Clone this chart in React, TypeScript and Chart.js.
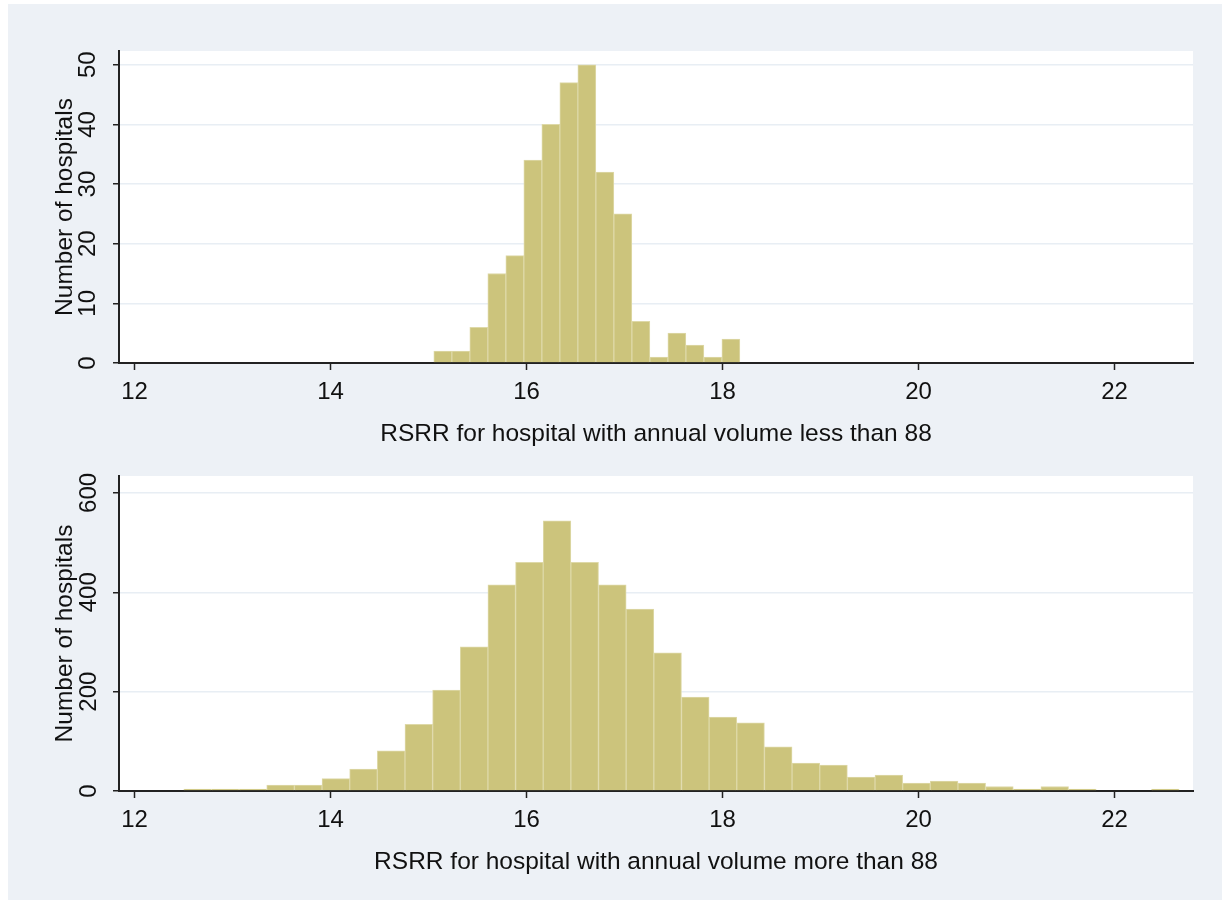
import React, { useEffect, useRef } from "react";
import { Chart, registerables } from "chart.js";

Chart.register(...registerables);

// ---- Data ----
const topCounts = [2, 2, 6, 15, 18, 34, 40, 47, 50, 32, 25, 7, 1, 5, 3, 1, 4];
const topBinStart = 15.054;
const topBinWidth = 0.1837;

const bottomCounts = [
  4, 4, 4, 12, 12, 25, 44, 81, 134, 203, 290, 415, 460, 544, 460, 415, 366, 278,
  189, 149, 137, 89, 56, 52, 28, 32, 16, 20, 16, 9, 4, 9, 4, 0, 0, 4,
];
const bottomBinStart = 12.503;
const bottomBinWidth = 0.2821;

const xRange = [11.842, 22.8];
const xTicks = [12, 14, 16, 18, 20, 22];
const topYMax = 52.3;
const topYTicks = [0, 10, 20, 30, 40, 50];
const bottomYMax = 634;
const bottomYTicks = [0, 200, 400, 600];

const yTitle = "Number of hospitals";
const topXTitle = "RSRR for hospital with annual volume less than 88";
const bottomXTitle = "RSRR for hospital with annual volume more than 88";

// ---- Styles ----
const FONT = "'Liberation Sans', Arial, Helvetica, sans-serif";
const BAR_FILL = "rgb(204,196,124)";
const BAR_EDGE = "rgb(222,217,168)";
const GRID = "rgb(232,238,244)";
const AXIS = "#222";
const OUTER_BG = "rgb(237,241,246)";

const plotBg = {
  id: "plotBg",
  beforeDraw(chart: any) {
    const { ctx, chartArea: a } = chart;
    ctx.save();
    ctx.fillStyle = "#ffffff";
    ctx.fillRect(a.left, a.top, a.right - a.left, a.bottom - a.top);
    ctx.restore();
  },
};

function binData(counts: number[], start: number, width: number) {
  return counts.map((c, i) => ({ x: start + width * (i + 0.5), y: c }));
}

function makeConfig(
  counts: number[],
  start: number,
  width: number,
  yMax: number,
  yTicks: number[],
  xTitle: string,
  yTickPad: number,
  topPad: number
): any {
  return {
    type: "bar",
    data: {
      datasets: [
        {
          data: binData(counts, start, width),
          backgroundColor: BAR_FILL,
          borderColor: BAR_EDGE,
          borderWidth: 1,
          barPercentage: 1,
          categoryPercentage: 1,
        },
      ],
    },
    options: {
      responsive: false,
      animation: false,
      devicePixelRatio: 1,
      layout: { padding: { top: topPad, right: 29, left: 0, bottom: 0 } },
      plugins: {
        legend: { display: false },
        tooltip: { enabled: false },
      },
      scales: {
        x: {
          type: "linear",
          min: xRange[0],
          max: xRange[1],
          offset: false,
          afterBuildTicks: (s: any) => {
            s.ticks = xTicks.map((v) => ({ value: v }));
          },
          afterFit: (s: any) => {
            s.height = 87;
          },
          ticks: {
            autoSkip: false,
            maxRotation: 0,
            minRotation: 0,
            padding: 8,
            color: "#111",
            font: { family: FONT, size: 24, lineHeight: 1.2 },
          },
          grid: {
            offset: false,
            drawOnChartArea: false,
            drawTicks: true,
            tickLength: 7,
            tickColor: AXIS,
            tickWidth: 1.5,
          },
          border: { display: true, color: AXIS, width: 2 },
          title: {
            display: true,
            text: xTitle,
            color: "#111",
            font: { family: FONT, size: 24.5, lineHeight: 1.2 },
            padding: { top: 0, bottom: 1 },
          },
        },
        y: {
          type: "linear",
          min: 0,
          max: yMax,
          afterBuildTicks: (s: any) => {
            s.ticks = yTicks.map((v) => ({ value: v }));
          },
          afterFit: (s: any) => {
            s.width = 111;
          },
          ticks: {
            autoSkip: false,
            minRotation: 90,
            maxRotation: 90,
            crossAlign: "center",
            padding: yTickPad,
            color: "#111",
            font: { family: FONT, size: 24, lineHeight: 1.2 },
          },
          grid: {
            color: GRID,
            lineWidth: 1.5,
            drawTicks: true,
            tickLength: 6,
            tickColor: AXIS,
            tickWidth: 1.5,
          },
          border: { display: true, color: AXIS, width: 2 },
          title: {
            display: true,
            text: yTitle,
            color: "#111",
            font: { family: FONT, size: 24.5, lineHeight: 1.2 },
            padding: { top: 43, bottom: 0 },
          },
        },
      },
    },
    plugins: [plotBg],
  };
}

function Histogram(props: {
  counts: number[];
  start: number;
  width: number;
  yMax: number;
  yTicks: number[];
  xTitle: string;
  yTickPad: number;
  topPad: number;
  w: number;
  h: number;
  top: number;
}) {
  const ref = useRef<HTMLCanvasElement | null>(null);
  useEffect(() => {
    if (!ref.current) return;
    const chart = new Chart(
      ref.current,
      makeConfig(
        props.counts,
        props.start,
        props.width,
        props.yMax,
        props.yTicks,
        props.xTitle,
        props.yTickPad,
        props.topPad
      )
    );
    return () => chart.destroy();
  }, []);
  return (
    <canvas
      ref={ref}
      width={props.w}
      height={props.h}
      style={{
        position: "absolute",
        left: 0,
        top: props.top,
        width: props.w,
        height: props.h,
      }}
    />
  );
}

export default function App() {
  return (
    <div
      style={{
        position: "absolute",
        left: 0,
        top: 0,
        width: 1222,
        height: 900,
        background: "#ffffff",
        overflow: "hidden",
      }}
    >
      <div
        style={{
          position: "absolute",
          left: 8,
          top: 4,
          width: 1214,
          height: 896,
          background: OUTER_BG,
        }}
      >
        <Histogram
          counts={topCounts}
          start={topBinStart}
          width={topBinWidth}
          yMax={topYMax}
          yTicks={topYTicks}
          xTitle={topXTitle}
          yTickPad={11}
          topPad={47}
          w={1214}
          h={446}
          top={0}
        />
        <Histogram
          counts={bottomCounts}
          start={bottomBinStart}
          width={bottomBinWidth}
          yMax={bottomYMax}
          yTicks={bottomYTicks}
          xTitle={bottomXTitle}
          yTickPad={4}
          topPad={26}
          w={1214}
          h={428}
          top={446}
        />
      </div>
    </div>
  );
}
